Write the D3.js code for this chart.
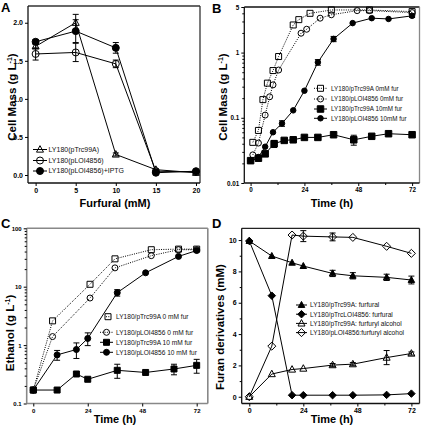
<!DOCTYPE html>
<html><head><meta charset="utf-8">
<script src="https://cdn.jsdelivr.net/npm/d3@7"></script>
<style>body{margin:0;background:#fff} svg{display:block} text{font-family:"Liberation Sans",Arial,sans-serif}</style>
</head><body>
<svg id="c" width="421" height="430"></svg>
<script>
// ---------- Panel A ----------
const aFurfural = [0, 5, 10, 15, 20];
const aTrc99A = [1.69, 2.00, 0.27, 0.07, 0.03];
const aTrc99AErr = [0.03, 0.11, 0.02, 0.01, 0.01];
const aLOI4856 = [1.59, 1.61, 1.46, 0.05, 0.04];
const aLOI4856Err = [0.08, 0.12, 0.05, 0.01, 0.01];
const aIPTG = [1.75, 1.89, 1.67, 0.03, 0.05];
const aIPTGErr = [0.03, 0.15, 0.07, 0.01, 0.01];
const aXTicks = [0, 5, 10, 15, 20];
const aYTicks = [0, 0.5, 1.0, 1.5, 2.0];
const aLegend = ["LY180(pTrc99A)", "LY180(pLOI4856)", "LY180(pLOI4856)+IPTG"];

// ---------- Panel B ----------
const bTrc0Time = [1, 3.5, 5.5, 7.5, 10, 12.5, 19, 21.5, 26.5, 36, 53, 72];
const bTrc0 = [0.042, 0.064, 0.19, 0.34, 0.53, 0.87, 2.65, 3.2, 4.0, 4.5, 4.5, 4.25];
const bLOI0Time = [1, 3.5, 6.5, 8.5, 10, 12.5, 22.5, 25, 31, 36, 47.5, 53, 72];
const bLOI0 = [0.027, 0.041, 0.11, 0.21, 0.32, 0.54, 1.98, 2.28, 3.37, 3.8, 4.4, 4.4, 4.1];
const bTrc10Time = [0, 3.5, 6.5, 10.5, 15, 19, 24, 30, 37, 46, 54, 61.5, 72];
const bTrc10 = [0.022, 0.024, 0.028, 0.040, 0.045, 0.046, 0.050, 0.050, 0.055, 0.046, 0.052, 0.057, 0.055];
const bTrc10Err = [0, 0.002, 0.002, 0.005, 0, 0, 0, 0.004, 0, 0.008, 0, 0, 0];
const bLOI10Time = [0, 3.5, 6.5, 10, 14, 19, 24, 30, 37, 45.5, 54, 61.5, 72];
const bLOI10 = [0.022, 0.025, 0.036, 0.06, 0.082, 0.13, 0.26, 0.71, 1.62, 2.83, 3.37, 3.28, 3.66];
const bLOI10Err = [0, 0, 0, 0, 0.008, 0, 0, 0.07, 0.15, 0, 0, 0, 0.2];
const bXTicks = [0, 24, 48, 72];
const bXMinor = [12, 36, 60];
const bYTicks = [0.01, 0.1, 1, 5];
const bYTickLabels = ["0.01", "0.1", "1", "5"];
const bLegend = ["LY180/pTrc99A 0mM fur", "LY180/pLOI4856 0mM fur", "LY180/pTrc99A 10mM fur", "LY180/pLOI4856 10mM fur"];

// ---------- Panel C ----------
const c0Time = [0, 8.5, 25, 36, 52, 64, 72];
const cTrc0 = [0.17, 2.6, 11, 30, 43, 44, 44];
const cLOI0 = [0.17, 1.4, 6.4, 21, 34, 43, 43];
const cTrc10Time = [0, 10.5, 19, 24, 37, 49.5, 62, 72];
const cTrc10 = [0.17, 0.17, 0.32, 0.26, 0.37, 0.34, 0.39, 0.45];
const cTrc10Err = [0, 0, 0, 0, 0.1, 0, 0.08, 0.12];
const cLOI10Time = [0, 10.5, 19, 24, 37, 49.5, 64, 72];
const cLOI10 = [0.17, 0.68, 0.84, 1.3, 7.9, 17.3, 33, 41.6];
const cLOI10Err = [0, 0.13, 0.25, 0.32, 1.0, 0, 0, 0];
const cXTicks = [0, 24, 48, 72];
const cYTicks = [0.1, 1, 10, 100];
const cYTickLabels = ["0.1", "1", "10", "100"];
const cLegend = ["LY180/pTrc99A 0 mM fur", "LY180/pLOI4856 0 mM fur", "LY180/pTrc99A 10 mM fur", "LY180/pLOI4856 10 mM fur"];

// ---------- Panel D ----------
const dTime = [0, 10, 19, 24, 37, 46, 61, 72];
const dTrcFur = [9.94, 8.98, 8.55, 8.34, 7.87, 7.72, 7.62, 7.45];
const dTrcFurErr = [0, 0, 0, 0, 0.2, 0.2, 0.2, 0.25];
const dLOIFur = [9.94, 6.45, 0.1, 0.1, 0.1, 0.1, 0.12, 0.2];
const dTrcAlc = [0, 1.45, 1.74, 1.8, 2.02, 2.08, 2.5, 2.76];
const dTrcAlcErr = [0, 0, 0, 0, 0.1, 0.1, 0.45, 0.1];
const dLOIAlc = [0, 3.23, 10.32, 10.25, 10.2, 10.17, 9.6, 9.15];
const dLOIAlcErr = [0, 0, 0, 0.35, 0.25, 0, 0, 0];
const dXTicks = [0, 24, 48, 72];
const dXMinor = [12, 36, 60];
const dYTicks = [0, 2, 4, 6, 8, 10];
const dYMinor = [1, 3, 5, 7, 9];
const dLegend = ["LY180/pTrc99A: furfural", "LY180/pTrcLOI4856: furfural", "LY180/pTrc99A: furfuryl alcohol", "LY180/pLOI4856:furfuryl alcohol"];

// ---------- helpers ----------
const svg = d3.select("#c");

function shapePath(shape, cx, cy, size) {
  const s = size / 2;
  if (shape === "circle") return `M${cx - s},${cy}a${s},${s} 0 1,0 ${2 * s},0a${s},${s} 0 1,0 ${-2 * s},0Z`;
  if (shape === "square") return `M${cx - s},${cy - s}h${2 * s}v${2 * s}h${-2 * s}Z`;
  if (shape === "triangle") return `M${cx},${cy - s * 1.1}L${cx + s},${cy + s * 0.75}L${cx - s},${cy + s * 0.75}Z`;
  if (shape === "diamond") return `M${cx},${cy - s * 1.15}L${cx + s * 1.15},${cy}L${cx},${cy + s * 1.15}L${cx - s * 1.15},${cy}Z`;
}

function drawMarker(g, shape, filled, cx, cy, size) {
  g.append("path").attr("d", shapePath(shape, cx, cy, size))
    .attr("fill", filled ? "#000" : "none").attr("stroke", "#000").attr("stroke-width", 1);
}

function series(g, x, y, xs, ys, errs, o) {
  const pts = xs.map((t, i) => [x(t), y(ys[i])]);
  g.append("path").attr("d", d3.line()(pts)).attr("fill", "none")
    .attr("stroke", "#000").attr("stroke-width", o.lw || 1)
    .attr("stroke-dasharray", o.dash || null);
  if (errs) errs.forEach((e, i) => {
    if (!e) return;
    const cx = x(xs[i]);
    const y1 = y(ys[i] + e), y2 = y(Math.max(ys[i] - e, o.minV || -1e9));
    const cw = o.cap || 3;
    g.append("path").attr("d", `M${cx},${y1}V${y2}M${cx - cw},${y1}H${cx + cw}M${cx - cw},${y2}H${cx + cw}`)
      .attr("stroke", "#000").attr("stroke-width", 1).attr("fill", "none");
  });
  pts.forEach(p => drawMarker(g, o.shape, o.filled, p[0], p[1], o.size));
}

function legendItem(g, x1, x2, y, label, tx, o, fs) {
  if (x2 > x1) g.append("line").attr("x1", x1).attr("x2", x2).attr("y1", y).attr("y2", y)
    .attr("stroke", "#000").attr("stroke-width", 1).attr("stroke-dasharray", o.dash || null);
  drawMarker(g, o.shape, o.filled, (x1 + x2) / 2, y, o.size);
  g.append("text").attr("x", tx).attr("y", y).attr("dy", "0.35em")
    .attr("font-size", fs).attr("fill", "#111").text(label);
}

function styleAxis(sel, fs) {
  sel.select(".domain").remove();
  sel.selectAll(".tick line").attr("stroke", "#000").attr("stroke-width", 1);
  sel.selectAll(".tick text").attr("font-size", fs).attr("font-weight", "bold")
    .attr("fill", "#000").attr("font-family", '"Liberation Sans",Arial,sans-serif');
}

function axes(g, x, y, fr, o) {
  const gx = g.append("g").attr("transform", `translate(0,${fr.b})`)
    .call(d3.axisBottom(x).tickValues(o.xTicks).tickSize(3).tickPadding(2).tickFormat(o.xFmt || (d => d)));
  styleAxis(gx, o.fs);
  if (o.xMinor) {
    const gm = g.append("g").attr("transform", `translate(0,${fr.b})`)
      .call(d3.axisBottom(x).tickValues(o.xMinor).tickSize(2).tickFormat(""));
    styleAxis(gm, o.fs);
  }
  const gy = g.append("g").attr("transform", `translate(${fr.l},0)`)
    .call(d3.axisLeft(y).tickValues(o.yTicks).tickSize(3).tickPadding(2).tickFormat(o.yFmt || (d => d)));
  styleAxis(gy, o.fs);
  if (o.yMinor) {
    const gm = g.append("g").attr("transform", `translate(${fr.l},0)`)
      .call(d3.axisLeft(y).tickValues(o.yMinor).tickSize(2).tickFormat(""));
    styleAxis(gm, o.fs);
  }
}

function frame(g, fr, colors, w) {
  const [top, right, bottom, left] = colors;
  g.append("line").attr("x1", fr.l).attr("x2", fr.r).attr("y1", fr.t).attr("y2", fr.t).attr("stroke", top).attr("stroke-width", w);
  g.append("line").attr("x1", fr.r).attr("x2", fr.r).attr("y1", fr.t).attr("y2", fr.b).attr("stroke", right).attr("stroke-width", w);
  g.append("line").attr("x1", fr.l).attr("x2", fr.r).attr("y1", fr.b).attr("y2", fr.b).attr("stroke", bottom).attr("stroke-width", w);
  g.append("line").attr("x1", fr.l).attr("x2", fr.l).attr("y1", fr.t).attr("y2", fr.b).attr("stroke", left).attr("stroke-width", w);
}

function titles(g, xt, xx, xy, yt, yx, yy, letter, lx, ly) {
  g.append("text").attr("x", xx).attr("y", xy).attr("text-anchor", "middle")
    .attr("font-size", 11).attr("font-weight", "bold").attr("fill", "#000").text(xt);
  const t = g.append("text").attr("transform", `translate(${yx},${yy}) rotate(-90)`).attr("text-anchor", "middle")
    .attr("font-size", 11.5).attr("font-weight", "bold").attr("fill", "#000");
  t.append("tspan").text(yt[0]);
  if (yt[1]) {
    t.append("tspan").attr("font-size", 7).attr("dy", -4.5).text(yt[1]);
    t.append("tspan").attr("dy", 4.5).text(yt[2]);
  }
  g.append("text").attr("x", lx).attr("y", ly).attr("font-size", 13).attr("font-weight", "bold").attr("fill", "#000").text(letter);
}

const cellMassTitle = ["Cell Mass (g L", "-1", ")"];
const ethanolTitle = ["Ethanol (g L", "-1", ")"];
const furanTitle = ["Furan derivatives (mM)"];

// ---------- Panel A draw ----------
{
  const fr = { l: 28, r: 200, t: 6, b: 183 };
  const x = d3.scaleLinear().domain([-0.95, 20.5]).range([fr.l, fr.r]);
  const y = d3.scaleLinear().domain([-0.105, 2.22]).range([fr.b, fr.t]);
  const g = svg.append("g");
  frame(g, fr, ["#333", "#333", "#111", "#111"], 1.3);
  axes(g, x, y, fr, { xTicks: aXTicks, yTicks: aYTicks, yFmt: d3.format(".1f"), fs: 7 });
  const oT = { shape: "triangle", filled: false, size: 7, cap: 3 };
  const oC = { shape: "circle", filled: false, size: 7, cap: 3 };
  const oF = { shape: "circle", filled: true, size: 7, cap: 3 };
  series(g, x, y, aFurfural, aTrc99A, aTrc99AErr, oT);
  series(g, x, y, aFurfural, aLOI4856, aLOI4856Err, oC);
  series(g, x, y, aFurfural, aIPTG, aIPTGErr, oF);
  legendItem(g, 33, 47, 149.5, aLegend[0], 48.5, oT, 7);
  legendItem(g, 33, 47, 160.5, aLegend[1], 48.5, oC, 7);
  legendItem(g, 33, 47, 171, aLegend[2], 48.5, oF, 7);
  titles(g, "Furfural (mM)", 115, 207, cellMassTitle, 16, 97, "A", 1, 12);
}

// ---------- Panel B draw ----------
{
  const fr = { l: 244.3, r: 419.5, t: 7, b: 183 };
  const x = d3.scaleLinear().domain([-2.8, 75.3]).range([fr.l, fr.r]);
  const y = d3.scaleLog().domain([0.01, 5]).range([fr.b, fr.t]);
  const g = svg.append("g");
  frame(g, fr, ["#111", "#888", "#111", "#111"], 1.3);
  const yMinor = [];
  [0.01, 0.1, 1].forEach(d => { for (let k = 2; k <= 9; k++) if (d * k < 5) yMinor.push(d * k); });
  axes(g, x, y, fr, { xTicks: bXTicks, xMinor: bXMinor, yTicks: bYTicks, yMinor,
    yFmt: (d, i) => bYTickLabels[i], fs: 6.3 });
  const oS = { shape: "square", filled: false, size: 6, dash: "1,1.3" };
  const oC = { shape: "circle", filled: false, size: 6, dash: "1,1.3" };
  const oFS = { shape: "square", filled: true, size: 6.5, cap: 3, minV: 0.011 };
  const oFC = { shape: "circle", filled: true, size: 5.5, cap: 3, minV: 0.011 };
  series(g, x, y, bTrc0Time, bTrc0, null, oS);
  series(g, x, y, bLOI0Time, bLOI0, null, oC);
  series(g, x, y, bTrc10Time, bTrc10, bTrc10Err, oFS);
  series(g, x, y, bLOI10Time, bLOI10, bLOI10Err, oFC);
  legendItem(g, 314, 327, 88.3, bLegend[0], 331, oS, 6.3);
  legendItem(g, 314, 327, 99, bLegend[1], 331, oC, 6.3);
  legendItem(g, 314, 327, 109, bLegend[2], 331, oFS, 6.3);
  legendItem(g, 314, 327, 118.3, bLegend[3], 331, oFC, 6.3);
  titles(g, "Time (h)", 332, 207, cellMassTitle, 227, 97, "B", 212, 13);
}

// ---------- Panel C draw ----------
{
  const fr = { l: 26.7, r: 207.8, t: 228.3, b: 403.5 };
  const x = d3.scaleLinear().domain([-2.9, 76.9]).range([fr.l, fr.r]);
  const y = d3.scaleLog().domain([0.1, 100]).range([fr.b, fr.t]);
  const g = svg.append("g");
  frame(g, fr, ["#888", "#888", "#888", "#888"], 1.6);
  const yMinor = [];
  [0.1, 1, 10].forEach(d => { for (let k = 2; k <= 9; k++) yMinor.push(d * k); });
  axes(g, x, y, fr, { xTicks: cXTicks, yTicks: cYTicks, yMinor,
    yFmt: (d, i) => cYTickLabels[i], fs: 6 });
  const oS = { shape: "square", filled: false, size: 6, dash: "1,1.3" };
  const oC = { shape: "circle", filled: false, size: 6, dash: "1,1.3" };
  const oFS = { shape: "square", filled: true, size: 6, cap: 3, minV: 0.11 };
  const oFC = { shape: "circle", filled: true, size: 6, cap: 3, minV: 0.11 };
  series(g, x, y, c0Time, cTrc0, null, oS);
  series(g, x, y, c0Time, cLOI0, null, oC);
  series(g, x, y, cTrc10Time, cTrc10, cTrc10Err, oFS);
  series(g, x, y, cLOI10Time, cLOI10, cLOI10Err, oFC);
  legendItem(g, 106, 110, 316.7, cLegend[0], 116, oS, 6.6);
  legendItem(g, 100, 113, 332.3, cLegend[1], 116, oC, 6.6);
  legendItem(g, 100, 113, 342.3, cLegend[2], 116, oFS, 6.6);
  legendItem(g, 100, 113, 352.3, cLegend[3], 116, oFC, 6.6);
  titles(g, "Time (h)", 115, 423, ethanolTitle, 14, 333, "C", 1, 228);
}

// ---------- Panel D draw ----------
{
  const fr = { l: 241.7, r: 419.5, t: 228.3, b: 403.5 };
  const x = d3.scaleLinear().domain([-3.37, 75.6]).range([fr.l, fr.r]);
  const y = d3.scaleLinear().domain([-0.43, 10.75]).range([fr.b, fr.t]);
  const g = svg.append("g");
  frame(g, fr, ["#222", "#222", "#111", "#111"], 1.3);
  axes(g, x, y, fr, { xTicks: dXTicks, xMinor: dXMinor, yTicks: dYTicks, yMinor: dYMinor, fs: 7 });
  const oFT = { shape: "triangle", filled: true, size: 6.5, cap: 3 };
  const oFD = { shape: "diamond", filled: true, size: 6.5, cap: 3 };
  const oT = { shape: "triangle", filled: false, size: 7, cap: 3 };
  const oD = { shape: "diamond", filled: false, size: 7, cap: 3 };
  series(g, x, y, dTime, dTrcFur, dTrcFurErr, oFT);
  series(g, x, y, dTime, dLOIFur, null, oFD);
  series(g, x, y, dTime, dTrcAlc, dTrcAlcErr, oT);
  series(g, x, y, dTime, dLOIAlc, dLOIAlcErr, oD);
  legendItem(g, 296, 307, 305, dLegend[0], 310, oFT, 6.6);
  legendItem(g, 296, 307, 314.2, dLegend[1], 310, oFD, 6.6);
  legendItem(g, 296, 307, 323.4, dLegend[2], 310, oT, 6.6);
  legendItem(g, 296, 307, 332.6, dLegend[3], 310, oD, 6.6);
  titles(g, "Time (h)", 332, 423, furanTitle, 224, 327, "D", 212, 228);
}
</script>
</body></html>
